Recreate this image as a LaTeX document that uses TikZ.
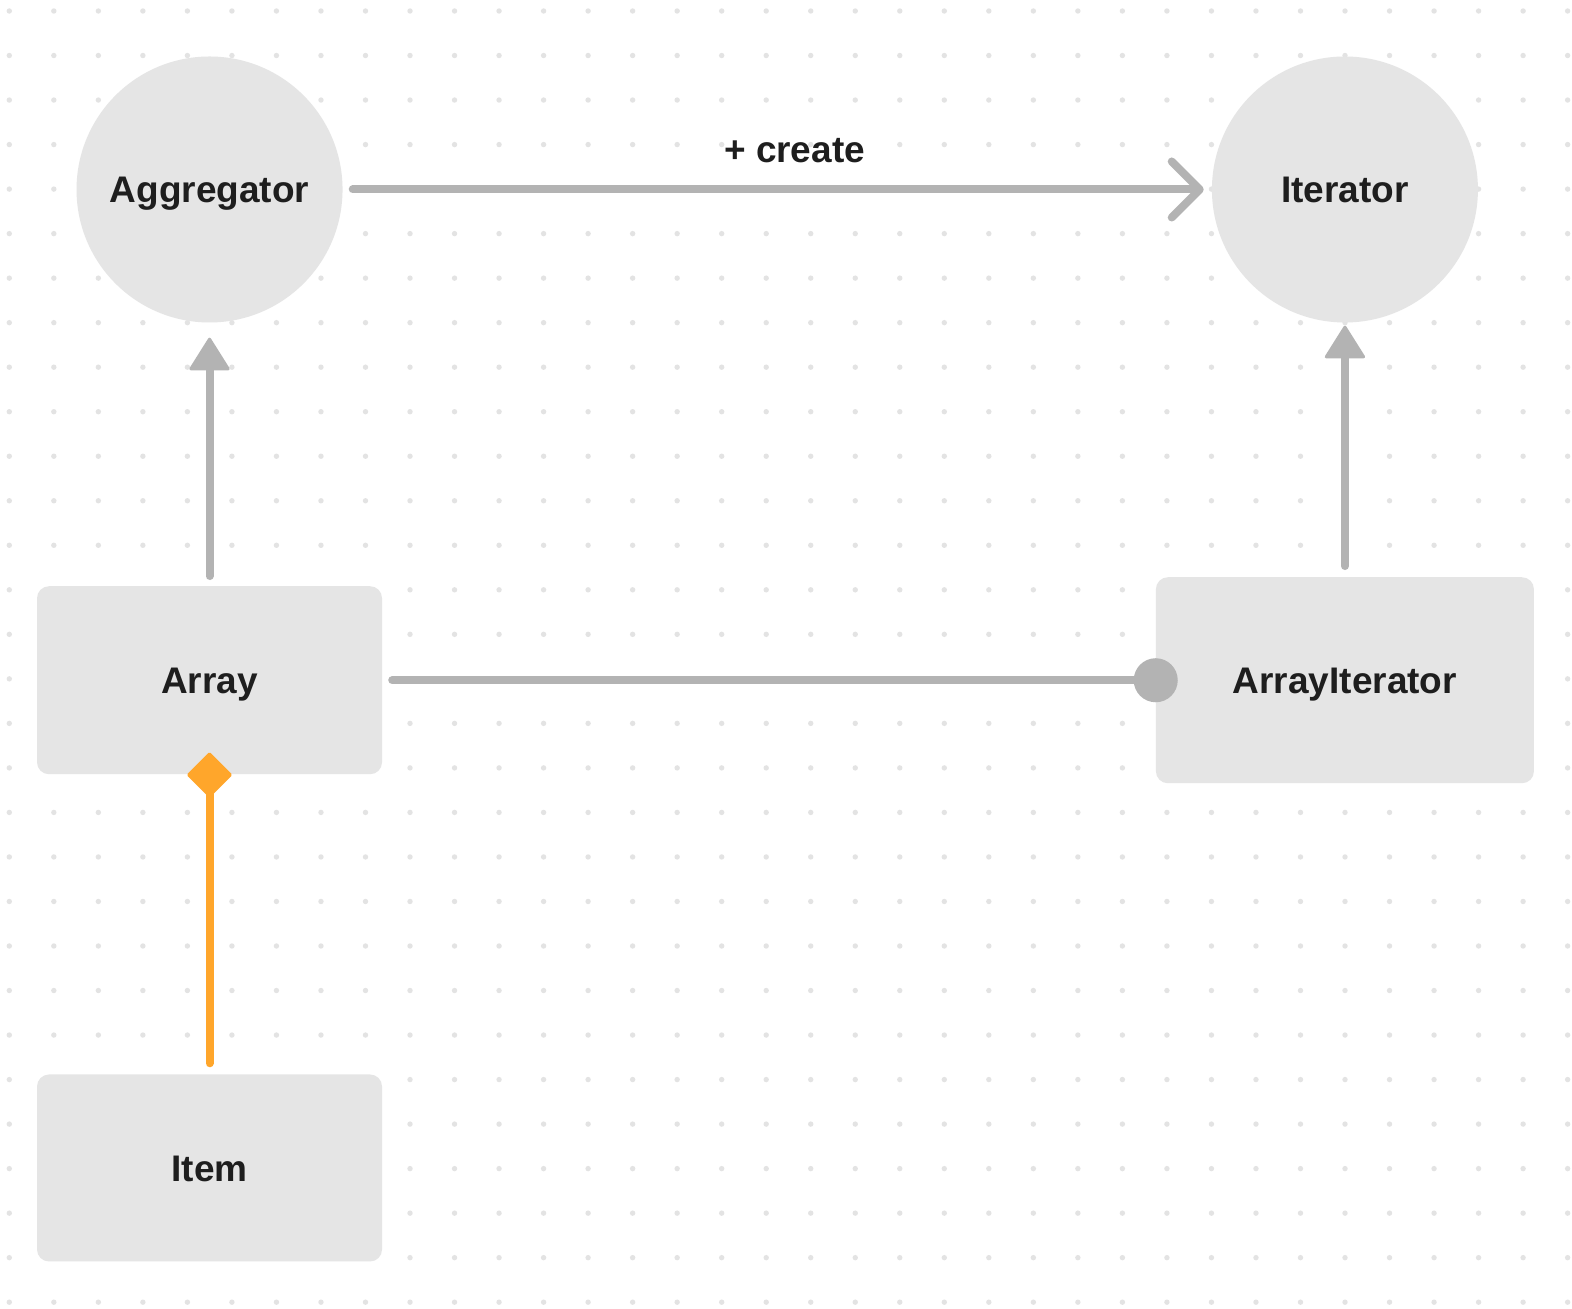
\documentclass[tikz,border=0pt]{standalone}
\usepackage{fontspec}
\setmainfont{Liberation Sans}
\usetikzlibrary{arrows.meta}
\definecolor{nodefill}{HTML}{E5E5E5}
\definecolor{linegray}{HTML}{B3B3B3}
\definecolor{dotgray}{HTML}{E3E3E3}
\definecolor{txt}{HTML}{1E1E1E}
\definecolor{orangec}{HTML}{FFA62B}
\tikzset{
  base/.style={fill=nodefill, draw=none, text=txt, font=\fontsize{37}{40}\selectfont\bfseries, inner sep=0pt, text height=26.5pt, text depth=0pt},
  circ/.style={base, circle, minimum size=266pt},
  box/.style={base, rectangle, rounded corners=12pt},
  conn/.style={draw=linegray, line width=8pt, line cap=round},
  lbl/.style={text=txt, font=\fontsize{37}{40}\selectfont\bfseries, inner sep=0pt, text height=26.5pt, text depth=0pt},
}
\begin{document}
\begin{tikzpicture}[x=1.00255pt,y=-1.00255pt]
\useasboundingbox (0,0) rectangle (1568,1304.67);
\fill[white] (0,0) rectangle (1568,1304.67);
% dot grid
\foreach \i in {0,...,35}{
  \foreach \j in {0,...,29}{
    \fill[dotgray] ({9.28+\i*44.41},{10.97+\j*44.41}) circle (2.7pt);
  }
}
% nodes
\node[circ] (agg) at (209,189) {Aggregator};
\node[circ] (it) at (1341.5,189) {Iterator};
\node[box, minimum width=345pt, minimum height=188pt] (arr) at (209,678.5) {Array};
\node[box, minimum width=378pt, minimum height=206pt] (ai) at (1341.5,678.5) {ArrayIterator};
\node[box, minimum width=345pt, minimum height=187pt] (item) at (209,1165) {Item};
% connectors
\draw[conn, shorten <=10pt, shorten >=8pt, -{Straight Barb[length=28pt,width=56pt,round,line width=8pt]}]
  (agg.east) -- node[lbl, above=23pt, pos=0.52] (create) {+ create} (it.west);
\draw[conn, shorten <=10pt, shorten >=15pt, -{Triangle[length=34pt,width=42pt,round,line width=3pt]}]
  (arr.north) -- (agg.south);
\draw[conn, shorten <=11pt, shorten >=3pt, -{Triangle[length=34pt,width=42pt,round,line width=3pt]}]
  (ai.north) -- (it.south);
\draw[conn, shorten <=10pt, shorten >=-22pt, -{Circle[length=44pt,width=44pt]}]
  (arr.east) -- (ai.west);
\draw[conn, draw=orangec, fill=orangec, shorten <=11pt, shorten >=-22pt, -{Diamond[length=46pt,width=46pt,round,line width=3pt]}]
  (item.north) -- (arr.south);
\end{tikzpicture}
\end{document}
